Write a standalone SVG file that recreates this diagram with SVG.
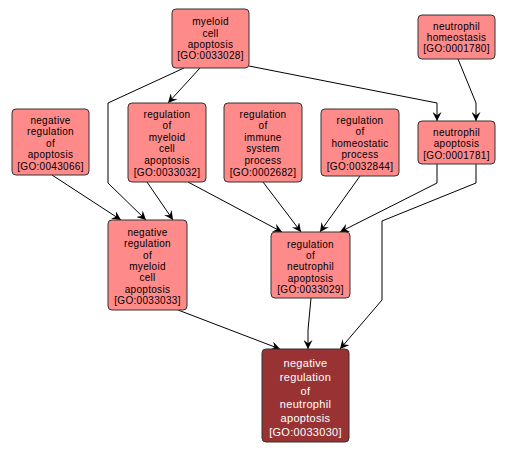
<svg xmlns="http://www.w3.org/2000/svg" width="507" height="453" viewBox="0 0 507 453">
<defs>
<marker id="arr" viewBox="0 0 10 10" refX="10" refY="5" markerWidth="9" markerHeight="9" markerUnits="userSpaceOnUse" orient="auto">
<path d="M0,0 L10,5 L0,10 L3.5,5 Z" fill="#000"/>
</marker>
</defs>
<style>
.n rect{fill:#ff8a8a;stroke:#333;stroke-width:1}
.n text{font-family:"Liberation Sans",Arial,sans-serif;font-size:10px;fill:#000;text-anchor:middle;letter-spacing:0.3px}
.d rect{fill:#993333;stroke:#333;stroke-width:1}
.d text{font-family:"Liberation Sans",Arial,sans-serif;font-size:11px;fill:#fff;text-anchor:middle;letter-spacing:0.3px}
.e path{fill:none;stroke:#000;stroke-width:1;marker-end:url(#arr)}
</style>
<rect width="507" height="453" fill="#fff"/>
<g class="e" id="edges">
<path d="M184,68 L108,103 L108,183 L146,220"/>
<path d="M200,68 L168,103"/>
<path d="M249,66 L437,103 L437,121"/>
<path d="M458,59 L476,103 L476,121"/>
<path d="M52,175 L121,220"/>
<path d="M147,182 L173,220"/>
<path d="M188,182 L282,232"/>
<path d="M263,182 L301,232"/>
<path d="M360,176 L320,232"/>
<path d="M437,164 L437,183 L340,232"/>
<path d="M476,164 L476,183 L382,221 L382,300 L340,349"/>
<path d="M178,310 L280,349"/>
<path d="M311,298 L308,330 L308,349"/>
</g>
<g class="n" id="GO0033028">
<rect x="172" y="9" width="77" height="59" rx="4"/>
<text x="210.5" y="25.2">myeloid</text>
<text x="210.5" y="36.5">cell</text>
<text x="210.5" y="47.8">apoptosis</text>
<text x="210.5" y="59.1">[GO:0033028]</text>
</g>
<g class="n" id="GO0001780">
<rect x="418" y="15" width="77" height="44" rx="4"/>
<text x="456.5" y="29.5">neutrophil</text>
<text x="456.5" y="41">homeostasis</text>
<text x="456.5" y="52.2">[GO:0001780]</text>
</g>
<g class="n" id="GO0043066">
<rect x="12" y="109" width="77" height="66" rx="4"/>
<text x="50.5" y="124">negative</text>
<text x="50.5" y="135.4">regulation</text>
<text x="50.5" y="146.8">of</text>
<text x="50.5" y="158.2">apoptosis</text>
<text x="50.5" y="169.6">[GO:0043066]</text>
</g>
<g class="n" id="GO0033032">
<rect x="128" y="103" width="78" height="79" rx="4"/>
<text x="167" y="117.5">regulation</text>
<text x="167" y="129.1">of</text>
<text x="167" y="140.7">myeloid</text>
<text x="167" y="152.3">cell</text>
<text x="167" y="163.9">apoptosis</text>
<text x="167" y="175.5">[GO:0033032]</text>
</g>
<g class="n" id="GO0002682">
<rect x="224" y="103" width="78" height="79" rx="4"/>
<text x="263" y="117.5">regulation</text>
<text x="263" y="129.1">of</text>
<text x="263" y="140.7">immune</text>
<text x="263" y="152.3">system</text>
<text x="263" y="163.9">process</text>
<text x="263" y="175.5">[GO:0002682]</text>
</g>
<g class="n" id="GO0032844">
<rect x="321" y="109" width="78" height="67" rx="4"/>
<text x="360" y="123.5">regulation</text>
<text x="360" y="135.1">of</text>
<text x="360" y="146.7">homeostatic</text>
<text x="360" y="158.3">process</text>
<text x="360" y="169.9">[GO:0032844]</text>
</g>
<g class="n" id="GO0001781">
<rect x="418" y="121" width="77" height="43" rx="4"/>
<text x="456.5" y="135.8">neutrophil</text>
<text x="456.5" y="147.3">apoptosis</text>
<text x="456.5" y="158.6">[GO:0001781]</text>
</g>
<g class="n" id="GO0033033">
<rect x="108" y="220" width="79" height="90" rx="4"/>
<text x="147.5" y="235.8">negative</text>
<text x="147.5" y="247.2">regulation</text>
<text x="147.5" y="258.6">of</text>
<text x="147.5" y="270">myeloid</text>
<text x="147.5" y="281.4">cell</text>
<text x="147.5" y="292.8">apoptosis</text>
<text x="147.5" y="304.2">[GO:0033033]</text>
</g>
<g class="n" id="GO0033029">
<rect x="271" y="232" width="79" height="66" rx="4"/>
<text x="310.5" y="247.5">regulation</text>
<text x="310.5" y="258.9">of</text>
<text x="310.5" y="270.3">neutrophil</text>
<text x="310.5" y="281.7">apoptosis</text>
<text x="310.5" y="293.1">[GO:0033029]</text>
</g>
<g class="d" id="GO0033030">
<rect x="262" y="349" width="87" height="93" rx="4"/>
<text x="305.5" y="366.7">negative</text>
<text x="305.5" y="380.6">regulation</text>
<text x="305.5" y="394.5">of</text>
<text x="305.5" y="408.4">neutrophil</text>
<text x="305.5" y="422.3">apoptosis</text>
<text x="305.5" y="436.2">[GO:0033030]</text>
</g>
</svg>
